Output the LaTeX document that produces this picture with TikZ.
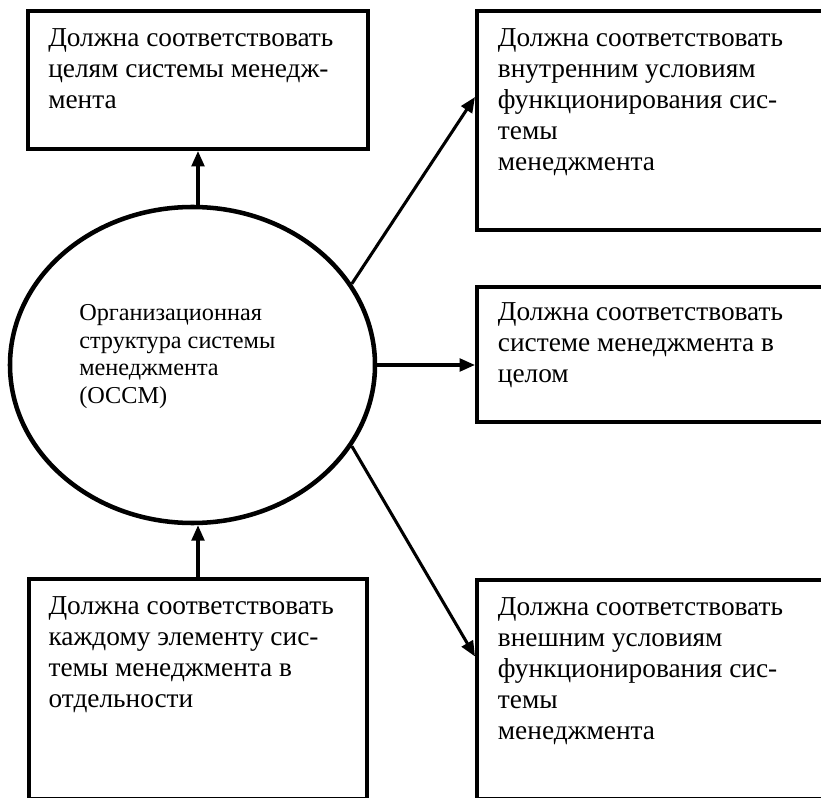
\documentclass[tikz,border=0pt]{standalone}
\usepackage{fontspec}
\setmainfont{Liberation Serif}
\usetikzlibrary{arrows.meta,shapes.geometric,fit}
\begin{document}
\begin{tikzpicture}[x=0.75pt,y=-0.75pt,
 box/.style={draw,line width=3pt,rectangle,inner sep=0pt},
 ell/.style={draw,ellipse,line width=3.4pt,inner sep=0pt,minimum width=273.75pt,minimum height=237pt},
 txt/.style={anchor=north west,inner sep=0pt,align=left,font=\fontsize{20.5pt}{23.25pt}\selectfont},
 etxt/.style={anchor=north west,inner sep=0pt,align=left,font=\fontsize{18.2pt}{20.8pt}\selectfont},
 arr/.style={line width=2.3pt,-{Triangle[length=11.5pt,width=9.5pt]}},
]
\useasboundingbox (0,0) rectangle (821,798);
\clip (0,0) rectangle (821,798);
% boxes
\node[box, fit={(28,11) (368,149)}] (b1) {};
\node[box, fit={(477,11) (840,230)}] (b2) {};
\node[box, fit={(477,287) (840,422)}] (b3) {};
\node[box, fit={(29,579) (367,799)}] (b4) {};
\node[box, fit={(477,580) (840,799)}] (b5) {};
% ellipse
\node[ell] (e) at (192.5,365) {};
% texts
\node[txt] (t1) at ([xshift=16.5pt,yshift=-14.3pt]b1.north west) {Должна соответствовать\\целям системы менедж-\\мента};
\node[txt] (t2) at ([xshift=17pt,yshift=-14.3pt]b2.north west) {Должна соответствовать\\внутренним условиям\\функционирования сис-\\темы\\менеджмента};
\node[txt] (t3) at ([xshift=17pt,yshift=-12.8pt]b3.north west) {Должна соответствовать\\системе менеджмента в\\целом};
\node[txt] (t4) at ([xshift=16pt,yshift=-14.8pt]b4.north west) {Должна соответствовать\\каждому элементу сис-\\темы менеджмента в\\отдельности};
\node[txt] (t5) at ([xshift=17pt,yshift=-14.3pt]b5.north west) {Должна соответствовать\\внешним условиям\\функционирования сис-\\темы\\менеджмента};
\node[etxt] (te) at (79,304) {Организационная\\структура системы\\менеджмента\\(ОССМ)};
% connectors
\draw[arr] (b1.south |- e.north) -- (b1.south);
\draw[arr] (e.27) -- ([yshift=17.6pt]b2.west);
\draw[arr] (e.east) -- (e.east -| b3.west);
\draw[arr] (e.-27) -- ([yshift=24.75pt]b5.west);
\draw[arr] (b4.north) -- (b4.north |- e.south);
\end{tikzpicture}
\end{document}
